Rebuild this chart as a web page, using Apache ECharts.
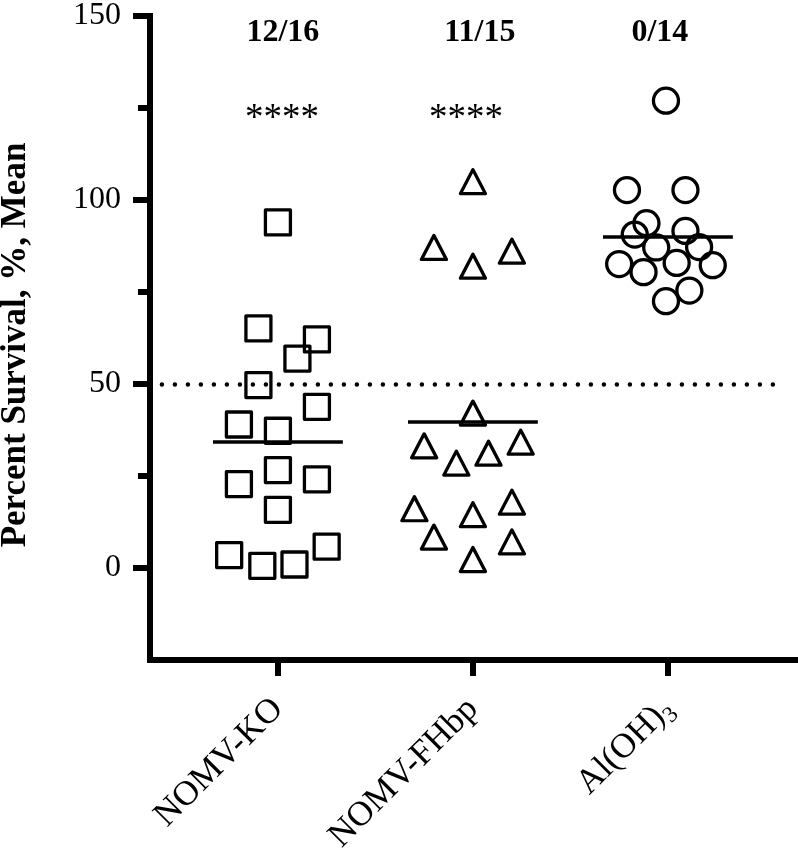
<!DOCTYPE html>
<html>
<head>
<meta charset="utf-8">
<script src="https://cdn.jsdelivr.net/npm/echarts@6/dist/echarts.min.js"></script>
<style>
html,body{margin:0;padding:0;background:#ffffff;}
#chart{width:798px;height:856px;}
</style>
</head>
<body>
<div id="chart"></div>
<script>
// ---- data ----
const categories = ['NOMV-KO', 'NOMV-FHbp', 'Al(OH)3'];
const yTickLabels = [0, 50, 100, 150];
const yMinorTicks = [25, 75, 125];
const survivalCounts = ['12/16', '11/15', '0/14'];
const significance = ['****', '****', ''];
const thresholdValue = 50;

const koValues = [93.9, 65.1, 62.1, 56.9, 49.7, 43.8, 39.0, 37.3, 26.6, 24.1, 22.8, 15.8, 5.8, 3.5, 0.95, 0.6];
const koJitter = [0.0, -0.10, 0.20, 0.10, -0.10, 0.20, -0.20, 0.0, 0.0, 0.20, -0.20, 0.0, 0.25, -0.25, 0.085, -0.08];

const fhValues = [105.0, 87.1, 86.1, 82.0, 42.1, 34.2, 33.2, 31.2, 28.5, 17.9, 16.1, 14.5, 8.4, 7.1, 2.3];
const fhJitter = [0.0, -0.20, 0.20, 0.0, 0.0, 0.245, -0.25, 0.08, -0.085, 0.20, -0.30, 0.0, -0.20, 0.20, 0.0];

const alValues = [127.0, 102.7, 102.7, 93.7, 91.6, 90.6, 87.2, 87.1, 82.9, 82.6, 82.3, 80.4, 75.4, 72.5];
const alJitter = [-0.01, -0.21, 0.09, -0.11, 0.09, -0.17, 0.16, -0.06, 0.045, -0.25, 0.23, -0.125, 0.11, -0.01];

// ---- helpers ----
const FONT = "'Liberation Serif', 'Times New Roman', serif";
function points(values, jitter, idx) {
  return values.map((v, k) => [idx + jitter[k], v]);
}
function mean(a) { return a.reduce((s, v) => s + v, 0) / a.length; }
function meanLine(values, idx) {
  const m = mean(values);
  return {
    silent: true,
    symbol: ['none', 'none'],
    label: { show: false },
    lineStyle: { color: '#000', width: 3.5, type: 'solid', opacity: 1 },
    emphasis: { disabled: true },
    data: [[{ coord: [idx - 0.333, m] }, { coord: [idx + 0.333, m] }]]
  };
}
const markerStyle = { color: 'rgba(0,0,0,0)', borderColor: '#000', borderWidth: 3.3, borderJoin: 'round', opacity: 1 };

const chart = echarts.init(document.getElementById('chart'), null, { renderer: 'canvas' });

const option = {
  animation: false,
  backgroundColor: '#ffffff',
  grid: { left: 150, right: 1, top: 16, bottom: 196, containLabel: false, outerBoundsMode: 'none' },
  xAxis: {
    type: 'value',
    min: -0.656,
    max: 2.662,
    splitLine: { show: false },
    axisLine: { show: true, onZero: false, lineStyle: { color: '#000', width: 6, cap: 'square' } },
    axisTick: { show: true, customValues: [0, 1, 2], length: 16, lineStyle: { color: '#000', width: 6 } },
    axisLabel: {
      customValues: [0, 1, 2],
      rotate: 45,
      margin: 44,
      color: '#000',
      fontFamily: FONT,
      fontSize: 35,
      formatter: function (v) {
        const name = categories[Math.round(v)];
        const m = name.match(/^(.*\))(\d)$/);
        if (m) return '{n|' + m[1] + '}{s|' + m[2] + '}';
        return '{n|' + name + '}';
      },
      rich: {
        n: { fontFamily: FONT, fontSize: 35, color: '#000' },
        s: { fontFamily: FONT, fontSize: 23, color: '#000', verticalAlign: 'bottom', padding: [0, 0, -4, 0] }
      }
    }
  },
  yAxis: [
    {
      type: 'value',
      min: -25,
      max: 150,
      interval: 25,
      splitLine: { show: false },
      axisLine: { show: true, onZero: false, lineStyle: { color: '#000', width: 6, cap: 'square' } },
      axisTick: { show: true, customValues: yTickLabels, length: 17, lineStyle: { color: '#000', width: 6 } },
      axisLabel: { customValues: yTickLabels, margin: 29, color: '#000', fontFamily: FONT, fontSize: 32 },
      name: 'Percent Survival, %, Mean',
      nameLocation: 'middle',
      nameGap: 117,
      nameRotate: 90,
      nameTextStyle: { color: '#000', fontFamily: FONT, fontSize: 35, fontWeight: 'bold', padding: [0, 14, 0, 0] }
    },
    {
      type: 'value',
      min: -25,
      max: 150,
      interval: 25,
      position: 'left',
      offset: 0,
      splitLine: { show: false },
      axisLine: { show: false, onZero: false },
      axisTick: { show: true, customValues: yMinorTicks, length: 12, lineStyle: { color: '#000', width: 6 } },
      axisLabel: { show: false }
    }
  ],
  series: [
    {
      type: 'scatter',
      name: categories[0],
      symbol: 'rect',
      symbolSize: 25,
      data: points(koValues, koJitter, 0),
      itemStyle: markerStyle,
      z: 3,
      markLine: meanLine(koValues, 0)
    },
    {
      type: 'scatter',
      name: categories[1],
      symbol: 'triangle',
      symbolSize: [25, 24],
      data: points(fhValues, fhJitter, 1),
      itemStyle: markerStyle,
      z: 3,
      markLine: meanLine(fhValues, 1)
    },
    {
      type: 'scatter',
      name: categories[2],
      symbol: 'circle',
      symbolSize: 25,
      data: points(alValues, alJitter, 2),
      itemStyle: markerStyle,
      z: 3,
      markLine: meanLine(alValues, 2)
    },
    {
      // threshold dotted line
      type: 'scatter',
      data: [],
      markLine: {
        silent: true,
        symbol: ['none', 'none'],
        label: { show: false },
        lineStyle: { color: '#000', width: 4.5, type: [0, 13], cap: 'round', opacity: 1 },
        data: [[{ coord: [-0.595, thresholdValue] }, { coord: [2.595, thresholdValue] }]]
      }
    },
    {
      // survival counts text
      type: 'scatter',
      symbolSize: 1,
      itemStyle: { color: 'rgba(0,0,0,0)', opacity: 1 },
      data: [[0, 145.4], [1, 145.4], [2, 145.4]],
      label: {
        show: true,
        position: 'inside',
        color: '#000',
        fontFamily: FONT,
        fontSize: 32,
        fontWeight: 'bold',
        formatter: p => survivalCounts[p.dataIndex]
      },
      labelLayout: function (params) {
        const dx = [5, 7, -8][params.dataIndex];
        return { dx: dx };
      }
    },
    {
      // significance stars
      type: 'scatter',
      symbolSize: 1,
      itemStyle: { color: 'rgba(0,0,0,0)', opacity: 1 },
      data: [[0, 122], [1, 122]],
      label: {
        show: true,
        position: 'inside',
        color: '#000',
        fontFamily: FONT,
        fontSize: 37,
        formatter: p => significance[p.dataIndex]
      },
      labelLayout: function (params) {
        const dx = [4, -7][params.dataIndex];
        return { dx: dx };
      }
    }
  ]
};
chart.setOption(option);
</script>
</body>
</html>
